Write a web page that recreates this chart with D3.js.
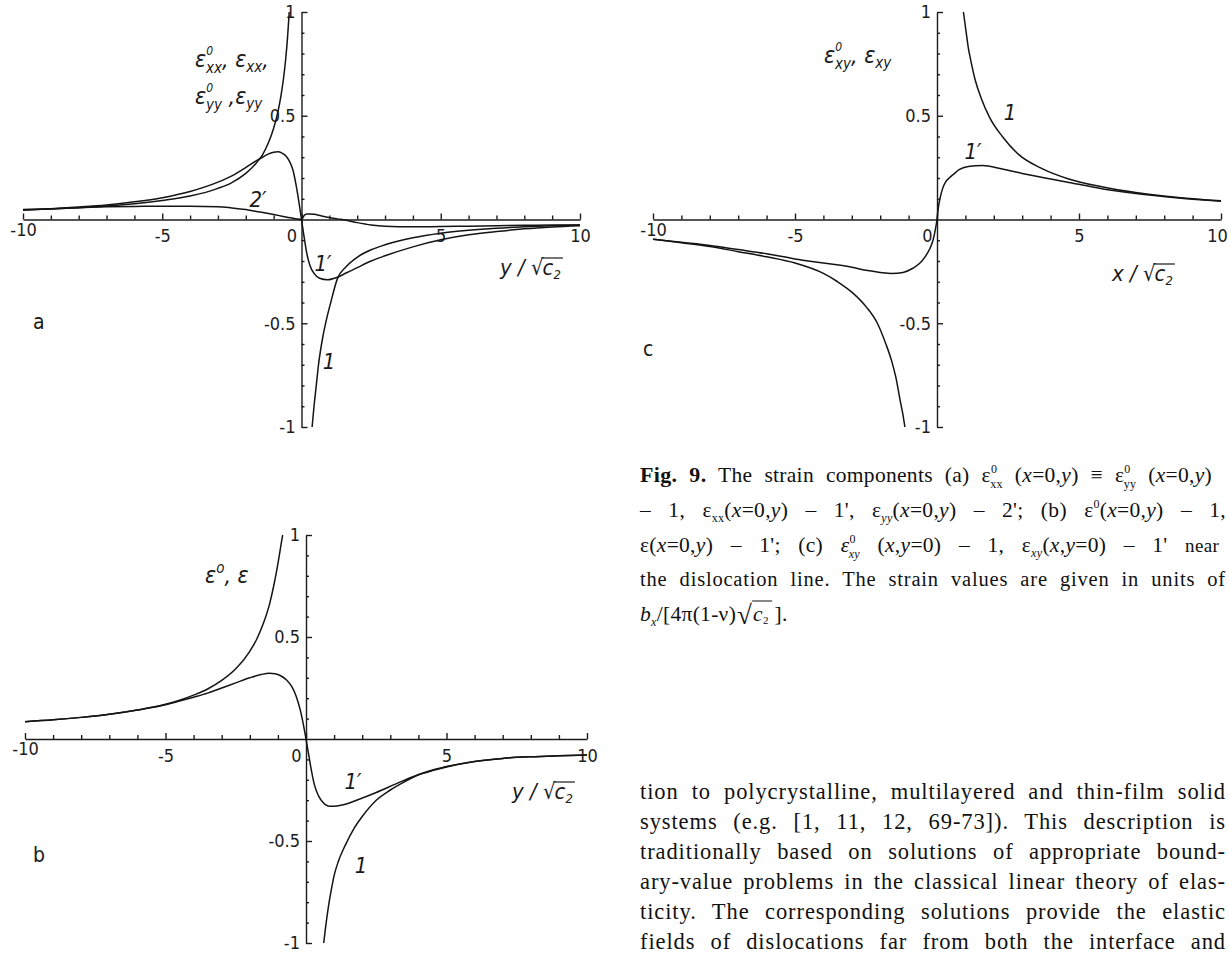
<!DOCTYPE html>
<html>
<head>
<meta charset="utf-8">
<script src="https://cdn.jsdelivr.net/npm/d3@7"></script>
<style>
  body { margin: 0; background: #fff; }
  svg { display: block; }
  .tick text { font-family: "Liberation Sans Narrow", "DejaVu Sans Condensed", "Liberation Sans", sans-serif; font-size: 18px; fill: #1c1c1c; }
  .tick line, .domain { stroke: #1c1c1c; stroke-width: 1.4; }
</style>
</head>
<body>
<svg id="fig" width="1229" height="954"></svg>
<script>
// ---- tick positions and labels ----
const xMajor = [-10, -5, 0, 5, 10];
const xMinor = [-9, -8, -7, -6, -4, -3, -2, -1, 1, 2, 3, 4, 6, 7, 8, 9];
const yMajor = [-1, -0.5, 0.5, 1];
const yMajorLabels = ["-1", "-0.5", "0.5", "1"];
const yMinor = [-0.9, -0.8, -0.7, -0.6, -0.4, -0.3, -0.2, -0.1, 0.1, 0.2, 0.3, 0.4, 0.6, 0.7, 0.8, 0.9];

// ---- (a) eps0_xx = eps0_yy (curve 1), eps_xx (1'), eps_yy (2') along x = 0 ----
const a1LeftY = [-10, -9, -8, -7, -6, -5, -4, -3, -2.5, -2, -1.6, -1.4, -1.2, -1, -0.85, -0.75, -0.65, -0.57, -0.5, -0.44];
const a1LeftV = [0.047, 0.051, 0.057, 0.065, 0.076, 0.092, 0.113, 0.15, 0.178, 0.222, 0.276, 0.312, 0.366, 0.44, 0.517, 0.586, 0.676, 0.77, 0.88, 1.0];
const a1RightY = [0.38, 0.45, 0.53, 0.62, 0.76, 0.9, 1.05, 1.29, 1.6, 2, 2.5, 3, 4, 5, 6, 7, 8, 9, 10];
const a1RightV = [-1.0, -0.9, -0.8, -0.69, -0.57, -0.48, -0.4, -0.285, -0.228, -0.182, -0.146, -0.122, -0.088, -0.066, -0.052, -0.042, -0.035, -0.03, -0.026];
const a1pY = [-10, -9, -8, -7, -6, -5, -4, -3, -2.5, -2, -1.6, -1.4, -1.2, -1, -0.85, -0.7, -0.55, -0.43, -0.3, -0.2, -0.1, 0, 0.1, 0.2, 0.3, 0.45, 0.65, 0.93, 1.29, 1.6, 2, 2.5, 3, 4, 5, 6, 7, 8, 9, 10];
const a1pV = [0.048, 0.052, 0.06, 0.07, 0.085, 0.105, 0.135, 0.18, 0.21, 0.25, 0.285, 0.30, 0.315, 0.324, 0.326, 0.32, 0.305, 0.28, 0.235, 0.17, 0.09, 0, -0.09, -0.17, -0.22, -0.26, -0.283, -0.29, -0.278, -0.258, -0.232, -0.2, -0.175, -0.132, -0.098, -0.074, -0.058, -0.045, -0.036, -0.03];
const a2pY = [-10, -9, -8, -7, -6, -5, -4, -3, -2.5, -2, -1.5, -1, -0.7, -0.4, -0.2, 0, 0.1, 0.2, 0.3, 0.45, 0.7, 1, 1.3, 1.6, 2, 2.5, 3, 4, 5, 6, 7, 8, 9, 10];
const a2pV = [0.045, 0.052, 0.057, 0.061, 0.063, 0.064, 0.064, 0.062, 0.056, 0.048, 0.036, 0.024, 0.016, 0.008, 0.004, 0, 0.02, 0.026, 0.027, 0.025, 0.018, 0.01, 0.003, -0.004, -0.015, -0.026, -0.032, -0.035, -0.034, -0.032, -0.03, -0.028, -0.027, -0.026];

// ---- (b) dilatation eps0 (curve 1) and eps (1') along x = 0 ----
const b1LeftY = [-10, -9, -8, -7, -6, -5, -4.5, -4, -3.5, -3, -2.5, -2, -1.75, -1.5, -1.3, -1.15, -1.05, -0.95, -0.88, -0.83];
const b1LeftV = [0.085, 0.094, 0.106, 0.121, 0.142, 0.17, 0.19, 0.215, 0.245, 0.287, 0.344, 0.43, 0.49, 0.573, 0.66, 0.75, 0.82, 0.9, 0.96, 1.0];
const b1RightY = [0.63, 0.7, 0.8, 0.9, 1.0, 1.15, 1.4, 1.7, 2, 2.5, 3, 3.5, 4, 5, 6, 7, 8, 9, 10];
const b1RightV = [-1.0, -0.92, -0.82, -0.74, -0.67, -0.6, -0.52, -0.44, -0.38, -0.3, -0.25, -0.21, -0.175, -0.135, -0.11, -0.095, -0.087, -0.082, -0.078];
const b1pY = [-10, -9, -8, -7, -6, -5, -4.5, -4, -3.5, -3, -2.5, -2, -1.6, -1.3, -1.1, -0.9, -0.7, -0.5, -0.35, -0.2, -0.1, 0, 0.1, 0.2, 0.3, 0.45, 0.6, 0.85, 1.1, 1.4, 1.8, 2.5, 3.2, 3.9, 4.5, 5, 6, 7, 8, 9, 10];
const b1pV = [0.085, 0.094, 0.106, 0.121, 0.142, 0.168, 0.186, 0.205, 0.225, 0.25, 0.275, 0.3, 0.316, 0.322, 0.32, 0.31, 0.29, 0.255, 0.21, 0.14, 0.075, 0, -0.08, -0.16, -0.225, -0.28, -0.31, -0.33, -0.328, -0.32, -0.3, -0.262, -0.22, -0.18, -0.155, -0.137, -0.11, -0.095, -0.087, -0.082, -0.078];

// ---- (c) shear eps0_xy (curve 1) and eps_xy (1') along y = 0 ----
const c1LeftX = [-10, -9, -8, -7, -6, -5, -4, -3.5, -3, -2.5, -2.1, -1.8, -1.6, -1.45, -1.3, -1.2, -1.13];
const c1LeftV = [-0.095, -0.112, -0.13, -0.155, -0.18, -0.21, -0.26, -0.3, -0.35, -0.42, -0.5, -0.6, -0.68, -0.76, -0.87, -0.94, -1.0];
const c1RightX = [0.93, 1.0, 1.1, 1.2, 1.35, 1.57, 1.86, 2.3, 2.86, 3.7, 4.64, 5.8, 7, 8.5, 10];
const c1RightV = [1.0, 0.93, 0.83, 0.76, 0.67, 0.58, 0.49, 0.4, 0.315, 0.245, 0.195, 0.158, 0.13, 0.106, 0.09];
const c1pX = [-10, -9, -8, -7, -6, -5, -4, -3, -2.5, -2, -1.6, -1.2, -0.85, -0.6, -0.42, -0.25, -0.14, -0.06, 0, 0.05, 0.12, 0.2, 0.3, 0.43, 0.6, 0.78, 1.1, 1.6, 2.3, 3, 3.5, 4, 4.64, 5, 5.8, 7, 8.5, 10];
const c1pV = [-0.095, -0.11, -0.125, -0.145, -0.165, -0.19, -0.21, -0.23, -0.245, -0.255, -0.26, -0.255, -0.235, -0.21, -0.18, -0.14, -0.1, -0.05, 0, 0.06, 0.11, 0.15, 0.18, 0.2, 0.22, 0.24, 0.255, 0.26, 0.243, 0.222, 0.208, 0.195, 0.178, 0.17, 0.148, 0.125, 0.104, 0.088];

// ---- running text below the caption ----
const bodyLines = [
  "tion to polycrystalline, multilayered and thin-film solid",
  "systems (e.g. [1, 11, 12, 69-73]). This description is",
  "traditionally based on solutions of appropriate bound-",
  "ary-value problems in the classical linear theory of elas-",
  "ticity. The corresponding solutions provide the elastic",
  "fields of dislocations far from both the interface and"
];

const svg = d3.select("#fig");
svg.append("rect").attr("width", 1229).attr("height", 954).attr("fill", "#fff");

const zip = (xs, vs) => xs.map((v, i) => [v, vs[i]]);
const LABEL_FONT = '"Liberation Sans Narrow", "DejaVu Sans Condensed", "Liberation Sans", sans-serif';
const SERIF = '"Liberation Serif", "DejaVu Serif", serif';
const INK = "#1a1a1a";

// write a run of tspans; dy values are relative shifts of the baseline
function rich(parent, x, y, runs, attrs) {
  const t = parent.append("text").attr("x", x).attr("y", y);
  Object.entries(attrs || {}).forEach(([k, v]) => t.attr(k, v));
  runs.forEach(r => {
    const s = t.append("tspan").text(r.t);
    if (r.dx != null) s.attr("dx", r.dx);
    if (r.dy != null) s.attr("dy", r.dy);
    if (r.fs) s.attr("font-size", r.fs);
    if (r.it) s.attr("font-style", "italic");
    if (r.b) s.attr("font-weight", "bold");
  });
  return t;
}

// italic "v / sqrt(c2)" axis caption
function sqrtLabel(parent, x, y, v) {
  const g = parent.append("g").attr("font-family", LABEL_FONT).attr("font-style", "italic")
    .attr("font-size", 22).attr("fill", INK);
  const t1 = g.append("text").attr("x", x).attr("y", y).text(v + " / \u221A");
  const w1 = t1.node().getComputedTextLength();
  const t2 = rich(g, x + w1 - 1, y, [{ t: "c" }, { t: "2", fs: 13, dy: 4 }], {});
  const w2 = t2.node().getComputedTextLength();
  g.append("line").attr("x1", x + w1 - 2).attr("x2", x + w1 + w2 + 1)
    .attr("y1", y - 17).attr("y2", y - 17).attr("stroke", INK).attr("stroke-width", 1.2);
}

function panel(cfg) {
  const g = svg.append("g");
  const x = d3.scaleLinear().domain([-10, 10]).range(cfg.xr);
  const y = d3.scaleLinear().domain([-1, 1]).range(cfg.yr);
  const y0 = y(0), x0 = x(0);

  // horizontal axis: minor ticks, then major ticks with labels
  g.append("g").attr("transform", `translate(0,${y0})`)
    .call(d3.axisBottom(x).tickValues(xMinor).tickSizeInner(-4).tickSizeOuter(0).tickFormat(""))
    .call(s => s.select(".domain").remove());
  const xa = g.append("g").attr("transform", `translate(0,${y0})`)
    .call(d3.axisBottom(x).tickValues(xMajor).tickSizeInner(-6).tickSizeOuter(0).tickPadding(10)
      .tickFormat(d => String(d)));
  xa.selectAll(".tick text").filter(d => d === 0).attr("dx", -10);
  xa.selectAll(".tick text").filter(d => d === -10).attr("dy", "0.35em");
  if (cfg.lastDx) xa.selectAll(".tick text").filter(d => d === 10).attr("dx", cfg.lastDx);

  // vertical axis: ticks pointing right, labels on the left
  g.append("g").attr("transform", `translate(${x0},0)`)
    .call(d3.axisLeft(y).tickValues(yMinor).tickSizeInner(-3).tickSizeOuter(0).tickFormat(""))
    .call(s => s.select(".domain").remove());
  g.append("g").attr("transform", `translate(${x0},0)`)
    .call(d3.axisLeft(y).tickValues(yMajor).tickSizeInner(-6).tickSizeOuter(0).tickPadding(6)
      .tickFormat((d, i) => yMajorLabels[i]));

  const line = d3.line().x(d => x(d[0])).y(d => y(d[1])).curve(d3.curveMonotoneX);
  cfg.series.forEach(s => {
    g.append("path").attr("d", line(s)).attr("fill", "none")
      .attr("stroke", "#141414").attr("stroke-width", 1.5);
  });

  cfg.marks.forEach(m => {
    g.append("text").attr("x", m[0]).attr("y", m[1]).attr("text-anchor", "middle")
      .attr("font-family", LABEL_FONT).attr("font-style", "italic").attr("font-size", 22)
      .attr("fill", INK).text(m[2]);
  });
  g.append("text").attr("x", cfg.letter[0]).attr("y", cfg.letter[1])
    .attr("font-family", LABEL_FONT).attr("font-size", 21).attr("fill", INK).text(cfg.letter[2]);
  sqrtLabel(g, cfg.title[0], cfg.title[1], cfg.title[2]);
  return g;
}

panel({
  xr: [23, 580], yr: [427, 12],
  series: [zip(a1LeftY, a1LeftV), zip(a1RightY, a1RightV), zip(a1pY, a1pV), zip(a2pY, a2pV)],
  marks: [[258, 207, "2\u2032"], [323, 271, "1\u2032"], [329, 369, "1"]],
  letter: [33, 329, "a"],
  title: [500, 275, "y"]
});
panel({
  xr: [25, 587], yr: [943, 535],
  series: [zip(b1LeftY, b1LeftV), zip(b1RightY, b1RightV), zip(b1pY, b1pV)],
  marks: [[353, 789, "1\u2032"], [361, 873, "1"]],
  letter: [33, 862, "b"],
  title: [512, 799, "y"]
});
panel({
  xr: [653, 1221], yr: [427, 12],
  series: [zip(c1LeftX, c1LeftV), zip(c1RightX, c1RightV), zip(c1pX, c1pV)],
  marks: [[1010, 120, "1"], [973, 159, "1\u2032"]],
  letter: [643, 356, "c"],
  title: [1112, 281, "x"],
  lastDx: -4
});

// ordinate names: the "0" sits above the stacked subscript
const lab = { "font-family": LABEL_FONT, "font-style": "italic", "font-size": 23, fill: INK };
rich(svg, 195, 67, [
  { t: "\u03B5" }, { t: "0", fs: 12, dy: -12 }, { t: "xx", fs: 15, dx: -7, dy: 18 },
  { t: ", \u03B5", dy: -6 }, { t: "xx", fs: 15, dy: 5 }, { t: ",", dy: -5 }], lab);
rich(svg, 195, 104, [
  { t: "\u03B5" }, { t: "0", fs: 12, dy: -12 }, { t: "yy", fs: 15, dx: -7, dy: 18 },
  { t: " ,\u03B5", dy: -6 }, { t: "yy", fs: 15, dy: 5 }], lab);
rich(svg, 205, 583, [{ t: "\u03B5" }, { t: "o", fs: 15, dy: -10 }, { t: ", \u03B5", dy: 10 }], lab);
rich(svg, 824, 63, [
  { t: "\u03B5" }, { t: "0", fs: 12, dy: -12 }, { t: "xy", fs: 15, dx: -7, dy: 18 },
  { t: ", \u03B5", dy: -6 }, { t: "xy", fs: 15, dy: 5 }], lab);

// fit a text line to the column width: widen word gaps, or squeeze if too long
function justify(t, width) {
  const w = t.node().getComputedTextLength();
  const n = (t.text().match(/ /g) || []).length;
  if (w > width) t.attr("textLength", width).attr("lengthAdjust", "spacingAndGlyphs");
  else if (n > 0) t.attr("word-spacing", (width - w) / n);
}

const cap = { "font-family": SERIF, "font-size": 21.5, fill: "#111", "letter-spacing": 0.3 };
const CX = 640, CW = 586;
const it = s => ({ t: s, it: true });
const sup0 = { t: "0", fs: 12, dy: -9 };
justify(rich(svg, CX, 482, [
  { t: "Fig. 9.", b: true, fs: 22 }, { t: " The strain components (a) \u03B5" }, sup0,
  { t: "xx", fs: 12, dx: -7, dy: 15 }, { t: " (", dy: -6 }, it("x"), { t: "=0," }, it("y"), { t: ") \u2261 \u03B5" },
  sup0, { t: "yy", fs: 12, dx: -7, dy: 15 }, { t: " (", dy: -6 }, it("x"), { t: "=0," }, it("y"), { t: ")" }
], cap), CW);
justify(rich(svg, CX, 517, [
  { t: "\u2013 1, \u03B5" }, { t: "xx", fs: 12, dy: 5 }, { t: "(", dy: -5 }, it("x"), { t: "=0," }, it("y"),
  { t: ") \u2013 1', \u03B5" }, { t: "yy", fs: 12, dy: 5, it: true }, { t: "(", dy: -5 }, it("x"), { t: "=0," }, it("y"),
  { t: ") \u2013 2'; (b) \u03B5" }, sup0, { t: "(", dy: 9 }, it("x"), { t: "=0," }, it("y"), { t: ") \u2013 1," }
], cap), CW);
justify(rich(svg, CX, 552, [
  { t: "\u03B5(" }, it("x"), { t: "=0," }, it("y"), { t: ") \u2013 1'; (c) " }, it("\u03B5"), sup0,
  { t: "xy", fs: 12, dx: -7, dy: 15, it: true }, { t: " (", dy: -6 }, it("x"), { t: "," }, it("y"), { t: "=0) \u2013 1, \u03B5" },
  { t: "xy", fs: 12, dy: 5, it: true }, { t: "(", dy: -5 }, it("x"), { t: "," }, it("y"), { t: "=0) \u2013 1' " }, { t: "near", fs: 19 }
], cap), CW);
justify(rich(svg, CX, 586, [{ t: "the dislocation line. The strain values are given in units of" }],
  { "font-family": SERIF, "font-size": 20.5, fill: "#111", "letter-spacing": 0.8 }), CW);
const l5 = rich(svg, CX, 621, [it("b"), { t: "x", fs: 12, dy: 5, it: true }, { t: "/[4\u03C0(1-\u03BD)", dy: -5 }], cap);
const l5w = l5.node().getComputedTextLength();
svg.append("text").attr("x", CX + l5w + 1).attr("y", 624).attr("font-family", SERIF)
  .attr("font-size", 27).attr("fill", "#111").text("\u221A");
rich(svg, CX + l5w + 17, 621, [it("c"), { t: "2", fs: 11, dy: 3 }, { t: " ].", dy: -3 }], cap);
svg.append("line").attr("x1", CX + l5w + 16).attr("x2", CX + l5w + 36)
  .attr("y1", 601).attr("y2", 601).attr("stroke", "#111").attr("stroke-width", 1);

// running text below the caption
bodyLines.forEach((s, i) => {
  const t = svg.append("text").attr("x", CX).attr("y", 799 + i * 30)
    .attr("font-family", SERIF).attr("font-size", 22.5).attr("letter-spacing", 0.9)
    .attr("fill", "#111").text(s);
  justify(t, CW);
});
</script>
</body>
</html>
